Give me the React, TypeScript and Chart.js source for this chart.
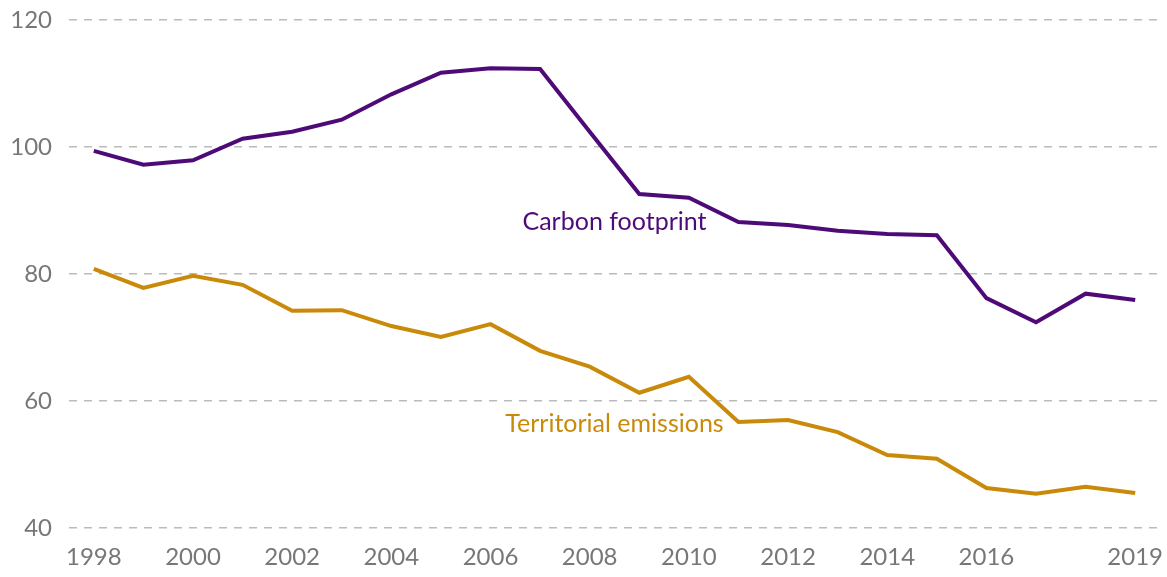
import React, { useEffect, useRef } from "react";
import { Chart, registerables } from "chart.js";

Chart.register(...registerables);

const years: string[] = [
  "1998", "1999", "2000", "2001", "2002", "2003", "2004", "2005", "2006", "2007", "2008",
  "2009", "2010", "2011", "2012", "2013", "2014", "2015", "2016", "2017", "2018", "2019",
];
const shownYears: string[] = [
  "1998", "2000", "2002", "2004", "2006", "2008", "2010", "2012", "2014", "2016", "2019",
];
const carbonFootprint: number[] = [
  99.4, 97.2, 97.9, 101.3, 102.4, 104.3, 108.3, 111.7, 112.4, 112.3, 102.4,
  92.6, 92.0, 88.2, 87.7, 86.8, 86.3, 86.1, 76.2, 72.4, 76.9, 75.9,
];
const territorialEmissions: number[] = [
  80.8, 77.8, 79.7, 78.3, 74.2, 74.3, 71.8, 70.1, 72.1, 67.9, 65.4,
  61.3, 63.8, 56.7, 57.0, 55.1, 51.5, 50.9, 46.3, 45.4, 46.5, 45.5,
];
const yTicks: number[] = [40, 60, 80, 100, 120];

const PURPLE = "#4e0b78";
const GOLD = "#c98a0a";
const FONT = "Lato, 'Noto Sans', sans-serif";

const labels = [
  { text: "Carbon footprint", x: 10.5, y: 88.2, color: PURPLE },
  { text: "Territorial emissions", x: 10.5, y: 56.4, color: GOLD },
];

const labelPlugin = {
  id: "seriesLabels",
  afterDatasetsDraw(chart: any) {
    const { ctx, scales } = chart;
    ctx.save();
    ctx.font = `25px ${FONT}`;
    ctx.textAlign = "center";
    ctx.textBaseline = "middle";
    labels.forEach((l) => {
      ctx.fillStyle = l.color;
      ctx.fillText(l.text, scales.x.getPixelForValue(l.x), scales.y.getPixelForValue(l.y));
    });
    ctx.restore();
  },
};

export default function App() {
  const ref = useRef<HTMLCanvasElement>(null);
  useEffect(() => {
    if (!ref.current) return;
    const chart = new Chart(ref.current, {
      type: "line",
      data: {
        labels: years,
        datasets: [
          {
            label: "Carbon footprint",
            data: carbonFootprint,
            borderColor: PURPLE,
            borderWidth: 4,
            pointRadius: 0,
            tension: 0,
          },
          {
            label: "Territorial emissions",
            data: territorialEmissions,
            borderColor: GOLD,
            borderWidth: 4,
            pointRadius: 0,
            tension: 0,
          },
        ],
      },
      options: {
        animation: false,
        responsive: true,
        maintainAspectRatio: false,
        layout: { padding: { top: 0, right: 0, left: 0, bottom: 8 } },
        plugins: { legend: { display: false }, tooltip: { enabled: false } },
        scales: {
          x: {
            offset: true,
            grid: { display: false, drawTicks: false },
            border: { display: false },
            afterFit: (s: any) => {
              s.paddingLeft = 0;
              s.paddingRight = 7;
              s.height = 41;
            },
            ticks: {
              autoSkip: false,
              maxRotation: 0,
              color: "#777",
              font: { family: FONT, size: 24, lineHeight: 1.0 },
              padding: 17,
              callback: (_v: any, i: number) => (shownYears.includes(years[i]) ? years[i] : ""),
            },
          },
          y: {
            min: 40,
            max: 120,
            afterBuildTicks: (axis: any) => {
              axis.ticks = yTicks.map((v) => ({ value: v }));
            },
            afterFit: (s: any) => {
              s.paddingTop = 20;
              s.paddingBottom = 0;
              s.width = 69;
            },
            grid: { color: "#bbbbbb", lineWidth: 1.5, drawTicks: false },
            border: { display: false, dash: [8, 7] },
            ticks: {
              color: "#777",
              font: { family: FONT, size: 24, lineHeight: 1.0 },
              padding: 17,
            },
          },
        },
      },
      plugins: [labelPlugin],
    });
    return () => chart.destroy();
  }, []);
  return (
    <div style={{ position: "absolute", left: 0, top: 0, width: 1167, height: 577 }}>
      <canvas ref={ref} />
    </div>
  );
}
